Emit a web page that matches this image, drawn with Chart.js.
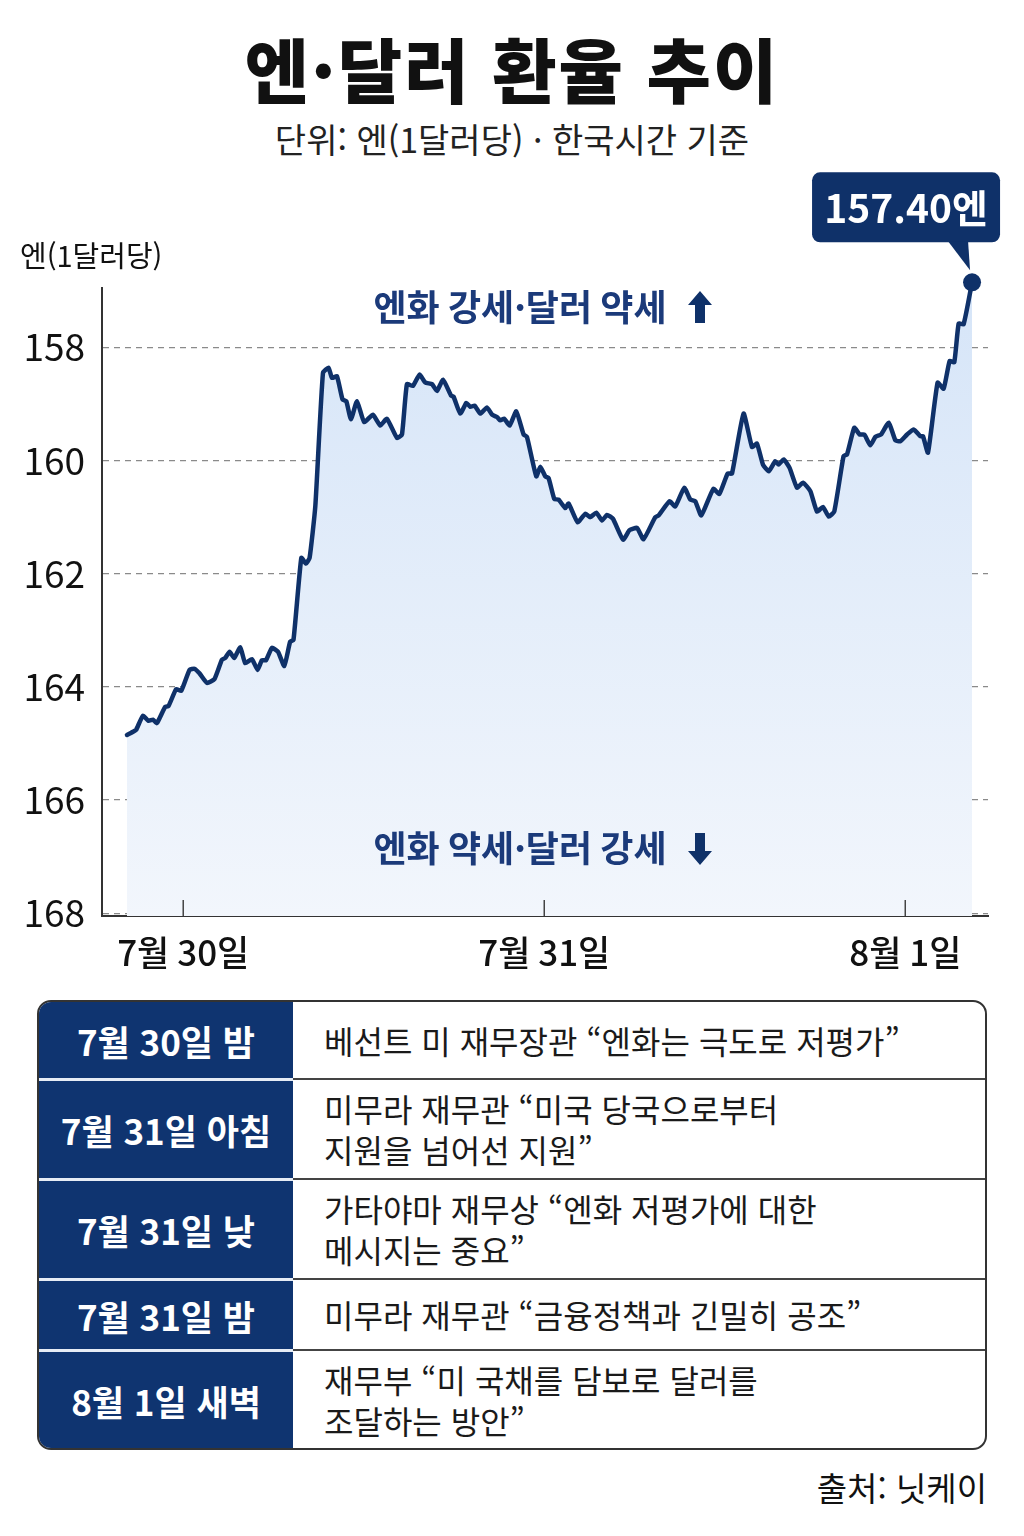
<!DOCTYPE html>
<html lang="ko">
<head>
<meta charset="utf-8">
<title>엔·달러 환율 추이</title>
<script src="https://cdn.jsdelivr.net/npm/chart.js@4.4.1/dist/chart.umd.min.js"></script>
<style>
  body { margin: 0; width: 1024px; height: 1536px; background: #fff; position: relative; overflow: hidden;
         font-family: "Noto Sans CJK KR", "Noto Sans", sans-serif; color: #111; }
  #title { position: absolute; top: 22px; left: 0; width: 1024px; text-align: center;
           font-size: 70px; font-weight: 900; line-height: 92px; letter-spacing: 2px; }
  #subtitle { position: absolute; top: 116px; left: 0; width: 1024px; text-align: center;
              font-size: 34px; line-height: 46px; color: #222; }
  #chartBox { position: absolute; top: 170px; left: 0; width: 1024px; height: 820px; }
  #events { position: absolute; left: 37px; top: 1000px; width: 946px; border: 2px solid #333;
            border-radius: 14px; overflow: hidden; background: #fff; }
  .row { display: flex; }
  .time { width: 254px; flex: none; background: #0f3470; color: #fff; font-weight: bold; font-size: 35px;
          display: flex; align-items: center; justify-content: center; box-sizing: border-box; }
  .text { flex: 1; padding-left: 31px; font-size: 32px; line-height: 41px; white-space: pre-line;
          display: flex; align-items: center; box-sizing: border-box; color: #1a1a1a; }
  .row + .row .time { border-top: 3px solid #e6ecf5; }
  .row + .row .text { border-top: 2px solid #444; }
  #source { position: absolute; right: 37px; top: 1463px; font-size: 33px; line-height: 48px; color: #111; }
</style>
</head>
<body>
<div id="title">엔·달러 환율 추이</div>
<div id="subtitle">단위: 엔(1달러당) · 한국시간 기준</div>
<div id="chartBox"><canvas id="fx"></canvas></div>
<div id="events"></div>
<div id="source">출처: 닛케이</div>

<script>
// hours counted from 7월 30일 00:00 (한국시간)
const hours = [-3.74,-3.30,-3.13,-2.68,-2.31,-2.01,-1.75,-1.20,-0.98,-0.47,-0.13,0.42,0.75,1.08,1.58,2.08,2.57,2.79,3.08,3.39,
  3.79,4.12,4.57,4.94,5.23,5.50,5.90,6.30,6.72,7.11,7.33,7.85,8.16,8.40,8.78,9.29,9.66,9.89,10.22,10.59,
  10.84,11.15,11.55,12.03,12.61,13.10,13.54,14.21,14.54,14.87,15.27,15.71,16.09,16.54,16.87,17.27,17.80,17.97,18.42,18.82,
  19.08,19.37,19.75,20.19,20.53,20.86,21.08,21.34,21.70,22.14,22.63,22.85,23.47,23.74,24.07,24.29,24.67,24.95,25.40,25.62,
  26.22,26.73,27.06,27.46,27.84,28.17,28.57,29.24,29.67,30.17,30.60,31.38,31.60,32.33,32.71,33.31,33.71,34.04,34.44,35.24,
  35.64,36.19,36.48,37.25,37.81,38.14,38.54,38.92,39.36,39.58,39.92,40.31,40.80,41.20,41.69,42.13,42.53,42.91,43.28,43.90,
  44.13,44.61,44.97,45.28,45.68,46.01,46.39,46.90,47.34,47.67,48.12,48.56,49.00,49.18,49.51,50.15,50.55,50.95,51.26,51.55,
  51.88,52.44];
// 엔/달러
const yen = [164.85,164.79,164.76,164.51,164.60,164.58,164.64,164.35,164.34,164.04,164.07,163.70,163.68,163.76,163.93,163.86,163.52,163.49,163.38,163.49,
  163.30,163.58,163.51,163.70,163.53,163.53,163.31,163.38,163.63,163.20,163.17,161.72,161.82,161.72,160.81,158.45,158.36,158.54,158.51,158.92,
  158.95,159.27,158.95,159.32,159.19,159.38,159.26,159.60,159.54,158.65,158.68,158.48,158.62,158.65,158.77,158.57,158.85,158.87,159.17,158.98,
  159.05,159.03,159.17,159.06,159.19,159.23,159.29,159.26,159.38,159.13,159.54,159.58,160.28,160.11,160.28,160.31,160.68,160.69,160.84,160.76,
  161.09,160.94,161.00,160.92,161.06,160.96,161.03,161.40,161.23,161.19,161.39,161.00,160.97,160.72,160.81,160.48,160.69,160.72,160.97,160.50,
  160.59,160.23,160.23,159.17,159.76,159.70,160.07,160.19,160.01,160.07,159.98,160.13,160.48,160.39,160.54,160.90,160.82,160.99,160.90,159.92,
  159.89,159.42,159.54,159.54,159.73,159.58,159.54,159.33,159.64,159.66,159.54,159.45,159.57,159.57,159.86,158.62,158.73,158.24,158.26,157.58,
  157.59,156.85];
const latestLabel = '157.40엔';

const dayTicks = [0, 24, 48];
const dayLabels = ['7월 30일', '7월 31일', '8월 1일'];
const yTicks = [158, 160, 162, 164, 166, 168];

const eventTimes = ['7월 30일 밤', '7월 31일 아침', '7월 31일 낮', '7월 31일 밤', '8월 1일 새벽'];
const eventTexts = [
  '베선트 미 재무장관 “엔화는 극도로 저평가”',
  '미무라 재무관 “미국 당국으로부터\n지원을 넘어선 지원”',
  '가타야마 재무상 “엔화 저평가에 대한\n메시지는 중요”',
  '미무라 재무관 “금융정책과 긴밀히 공조”',
  '재무부 “미 국채를 담보로 달러를\n조달하는 방안”'
];
const rowHeights = [76, 100, 100, 71, 99];

const NAVY = '#0f3169';
const FONT = '"Noto Sans CJK KR", "Noto Sans", sans-serif';

// table
const events = document.getElementById('events');
eventTimes.forEach((t, i) => {
  const row = document.createElement('div');
  row.className = 'row';
  row.style.height = rowHeights[i] + 'px';
  row.innerHTML = '<div class="time"></div><div class="text"></div>';
  row.children[0].textContent = t;
  row.children[1].textContent = eventTexts[i];
  events.appendChild(row);
});

function arrow(ctx, cx, cy, up) {
  const d = up ? -1 : 1;
  ctx.beginPath();
  ctx.moveTo(cx, cy + d * 16);
  ctx.lineTo(cx + 12, cy + d * 2);
  ctx.lineTo(cx + 5, cy + d * 2);
  ctx.lineTo(cx + 5, cy - d * 16);
  ctx.lineTo(cx - 5, cy - d * 16);
  ctx.lineTo(cx - 5, cy + d * 2);
  ctx.lineTo(cx - 12, cy + d * 2);
  ctx.closePath();
  ctx.fill();
}

const extras = {
  id: 'extras',
  afterDatasetsDraw(chart) {
    const { ctx, chartArea } = chart;
    const x = chart.scales.x;
    ctx.save();

    // inner tick marks on the time axis
    ctx.strokeStyle = '#444';
    ctx.lineWidth = 1.5;
    dayTicks.forEach(v => {
      const px = x.getPixelForValue(v);
      ctx.beginPath();
      ctx.moveTo(px, chartArea.bottom);
      ctx.lineTo(px, chartArea.bottom - 16);
      ctx.stroke();
    });

    // unit label
    ctx.fillStyle = '#111';
    ctx.font = '29px ' + FONT;
    ctx.textAlign = 'left';
    ctx.textBaseline = 'middle';
    ctx.fillText('엔(1달러당)', 20, 86);

    // direction notes
    ctx.fillStyle = '#1b3a7a';
    ctx.font = 'bold 36px ' + FONT;
    ctx.textAlign = 'center';
    const noteX = 520;
    ctx.fillText('엔화 강세·달러 약세', noteX, 137);
    ctx.fillText('엔화 약세·달러 강세', noteX, 678);
    ctx.fillStyle = NAVY;
    arrow(ctx, 700, 137, true);
    arrow(ctx, 700, 679, false);

    // callout for the latest value
    const meta = chart.getDatasetMeta(0);
    const p = meta.data[meta.data.length - 1];
    const right = p.x + 28, bottom = p.y - 40;
    const left = right - 188, top = bottom - 70;
    ctx.fillStyle = NAVY;
    ctx.beginPath();
    ctx.roundRect(left, top, right - left, bottom - top, 8);
    ctx.fill();
    ctx.beginPath();
    ctx.moveTo(p.x - 24, bottom - 1);
    ctx.lineTo(p.x - 4, bottom - 1);
    ctx.lineTo(p.x - 2, p.y - 12);
    ctx.closePath();
    ctx.fill();
    ctx.fillStyle = '#fff';
    ctx.font = 'bold 39px ' + FONT;
    ctx.fillText(latestLabel, (left + right) / 2, (top + bottom) / 2 + 1);
    ctx.restore();
  }
};

const last = yen.length - 1;
new Chart(document.getElementById('fx'), {
  type: 'line',
  data: {
    datasets: [{
      data: hours.map((h, i) => ({ x: h, y: yen[i] })),
      borderColor: NAVY,
      borderWidth: 4.5,
      borderJoinStyle: 'round',
      borderCapStyle: 'round',
      tension: 0.15,
      fill: 'start',
      backgroundColor: (c) => {
        const a = c.chart.chartArea;
        if (!a) return '#e3edf9';
        const g = c.chart.ctx.createLinearGradient(0, a.top, 0, a.bottom);
        g.addColorStop(0, '#d6e5f8');
        g.addColorStop(1, '#f2f6fc');
        return g;
      },
      pointRadius: (c) => c.dataIndex === last ? 9 : 0,
      pointHoverRadius: 0,
      pointBackgroundColor: NAVY,
      pointBorderWidth: 0,
      clip: false
    }]
  },
  options: {
    responsive: true,
    maintainAspectRatio: false,
    animation: false,
    layout: { padding: { top: 118, right: 36, left: 0, bottom: 0 } },
    plugins: { legend: { display: false }, tooltip: { enabled: false } },
    scales: {
      x: {
        type: 'linear',
        min: -5.4,
        max: 53.5,
        afterBuildTicks: (s) => { s.ticks = dayTicks.map(v => ({ value: v })); },
        afterFit: (s) => { s.height = 74; },
        grid: { display: false },
        border: { display: true, color: '#333', width: 2 },
        ticks: {
          padding: 8,
          color: '#111',
          font: { family: FONT, size: 35, weight: 500 },
          callback: (v) => dayLabels[dayTicks.indexOf(v)]
        }
      },
      y: {
        reverse: true,
        min: 156.95,
        max: 168.05,
        afterBuildTicks: (s) => { s.ticks = yTicks.map(v => ({ value: v })); },
        afterFit: (s) => { s.width = 102; },
        grid: { color: '#8a8a8a', lineWidth: 1.2, drawTicks: false },
        border: { display: true, color: '#333', width: 2, dash: [6, 5] },
        ticks: {
          padding: 17,
          color: '#111',
          font: { family: FONT, size: 37 },
          callback: (v) => String(v)
        }
      }
    }
  },
  plugins: [extras]
});
</script>
</body>
</html>
